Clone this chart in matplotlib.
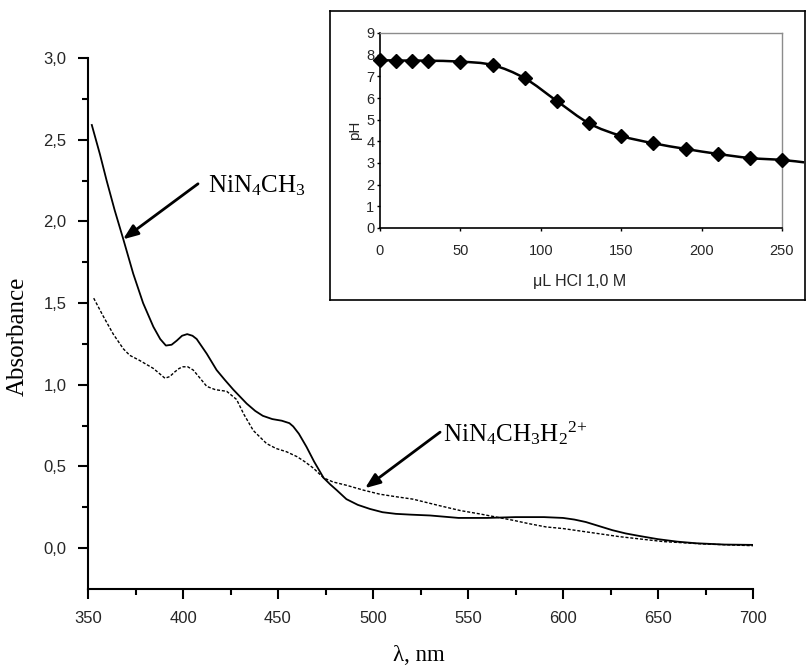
import numpy as np
import matplotlib
matplotlib.use('Agg')
import matplotlib.pyplot as plt
from matplotlib.path import Path
from matplotlib.patches import PathPatch

plt.rcParams['mathtext.fontset'] = 'custom'
plt.rcParams['mathtext.rm'] = 'Liberation Serif'
plt.rcParams['mathtext.it'] = 'Liberation Serif:italic'
plt.rcParams['font.family'] = ['Liberation Sans', 'DejaVu Sans']

# ---------------- data ----------------
wl_solid = [352, 356.3, 359.8, 364, 368.6, 373.8, 379, 384.4, 388, 391, 394, 396.7, 399.5,
            402.2, 405, 407.2, 412.5, 417.7, 422, 426.5, 433.5, 438, 442, 447, 452, 456,
            458, 461, 465, 469, 474, 477.5, 480.9, 486, 492, 498.4, 505, 512, 520, 530,
            545, 560, 575, 590, 600, 606, 612, 619, 626, 633, 640, 650, 660, 670, 685, 700]
abs_solid = [2.59, 2.41, 2.25, 2.07, 1.89, 1.68, 1.50, 1.355, 1.28, 1.24, 1.245, 1.27, 1.30,
             1.31, 1.30, 1.28, 1.19, 1.09, 1.03, 0.97, 0.885, 0.84, 0.81, 0.79, 0.78, 0.765,
             0.745, 0.70, 0.62, 0.53, 0.43, 0.39, 0.355, 0.30, 0.265, 0.24, 0.22, 0.21,
             0.205, 0.20, 0.185, 0.185, 0.19, 0.19, 0.185, 0.175, 0.16, 0.135, 0.11, 0.09,
             0.075, 0.055, 0.04, 0.03, 0.022, 0.02]

wl_dashed = [353, 358, 363.3, 368.6, 372, 377, 384.4, 390.5, 393, 395.8, 398, 400, 402.5,
             405.4, 409, 412.5, 417, 423, 428.2, 432, 437, 444, 449, 454.5, 460, 464, 468.6,
             474, 479, 486, 495, 503.7, 512, 521, 535, 546, 556, 565, 574, 582, 591, 600,
             612, 630, 653, 675, 700]
abs_dashed = [1.53, 1.42, 1.31, 1.22, 1.18, 1.15, 1.10, 1.04, 1.05, 1.08, 1.10, 1.11, 1.11,
              1.09, 1.04, 0.99, 0.97, 0.96, 0.91, 0.82, 0.72, 0.64, 0.61, 0.59, 0.56, 0.53,
              0.49, 0.43, 0.405, 0.385, 0.355, 0.33, 0.315, 0.30, 0.26, 0.23, 0.21, 0.19,
              0.17, 0.15, 0.13, 0.12, 0.10, 0.07, 0.04, 0.025, 0.015]

x_ticks = [350, 400, 450, 500, 550, 600, 650, 700]
x_minor = [375, 425, 475, 525, 575, 625, 675]
y_ticks = [0.0, 0.5, 1.0, 1.5, 2.0, 2.5, 3.0]
y_ticklabels = ['0,0', '0,5', '1,0', '1,5', '2,0', '2,5', '3,0']
y_minor = [0.25, 0.75, 1.25, 1.75, 2.25, 2.75]

label_solid = r'$\mathrm{NiN_4CH_3}$'
label_dashed = r'$\mathrm{NiN_4CH_3H_2{}^{2\!+}}$'

# inset: titration curve
hcl_ul = [0, 10, 20, 30, 50, 70, 90, 110, 130, 150, 170, 190, 210, 230, 250]
ph = [7.75, 7.73, 7.73, 7.72, 7.68, 7.52, 6.91, 5.86, 4.83, 4.25, 3.91, 3.65, 3.42, 3.23, 3.14]
tail_ul = [263.7]
tail_ph = [3.03]
inset_xticks = [0, 50, 100, 150, 200, 250]
inset_yticks = [0, 1, 2, 3, 4, 5, 6, 7, 8, 9]

# ---------------- figure ----------------
W, H = 809, 666
fig = plt.figure(figsize=(W / 100, H / 100), dpi=100)

ax = fig.add_axes([88 / W, (H - 589) / H, 665 / W, 531 / H])
ax.plot(wl_solid, abs_solid, color='black', lw=1.3)
ax.plot(wl_dashed, abs_dashed, color='black', lw=1.0, linestyle=(0, (2.2, 1.3)))
ax.set_xlim(350, 700)
ax.set_ylim(-0.25, 3.0)
ax.set_xticks(x_ticks)
ax.set_xticks(x_minor, minor=True)
ax.set_yticks(y_ticks)
ax.set_yticklabels(y_ticklabels)
ax.set_yticks(y_minor, minor=True)
for s in ['top', 'right']:
    ax.spines[s].set_visible(False)
for s in ['left', 'bottom']:
    ax.spines[s].set_linewidth(1.5)
ax.tick_params(which='major', direction='out', length=7.5, width=1.5,
               labelsize=12, labelcolor='#262626', pad=8)
ax.tick_params(which='minor', direction='out', length=4.5, width=1.5)

ax.set_ylabel('Absorbance', family='Liberation Serif', fontsize=18)
ax.yaxis.set_label_coords(-0.089, 0.475)
ax.set_xlabel('λ, nm', family='Liberation Serif', fontsize=16.5)
ax.xaxis.set_label_coords(0.498, -0.106)

arrow_kw = dict(arrowstyle='-|>,head_length=0.9,head_width=0.35', color='black',
                lw=2.0, shrinkA=0, shrinkB=0)
ax.annotate('', xy=(368.4, 1.89), xytext=(407.9, 2.23), arrowprops=arrow_kw)
ax.text(413.2, 2.18, label_solid, fontsize=18, va='baseline', ha='left')
ax.annotate('', xy=(495.8, 0.367), xytext=(535.3, 0.71), arrowprops=arrow_kw)
ax.text(536.8, 0.654, label_dashed, fontsize=18, va='baseline', ha='left')

# inset frame
frame = fig.add_axes([330 / W, (H - 300) / H, 475 / W, 289 / H])
frame.set_xticks([])
frame.set_yticks([])
for s in frame.spines.values():
    s.set_linewidth(1.2)
    s.set_color('black')

ins = fig.add_axes([380 / W, (H - 228) / H, 402 / W, 195 / H])
ins.set_xlim(0, 250)
ins.set_ylim(0, 9)
ins.patch.set_alpha(0)

# smooth line through points (Bezier path, drawn in data coordinates)
px = list(hcl_ul) + list(tail_ul)
py = list(ph) + list(tail_ph)
pts = np.column_stack([px, py]).astype(float)
verts = [pts[0]]
codes = [Path.MOVETO]
n = len(pts)
for i in range(n - 1):
    p0 = pts[max(i - 1, 0)]
    p1 = pts[i]
    p2 = pts[i + 1]
    p3 = pts[min(i + 2, n - 1)]
    c1 = p1 + (p2 - p0) / 6.0
    c2 = p2 - (p3 - p1) / 6.0
    verts += [c1, c2, p2]
    codes += [Path.CURVE4] * 3
patch = PathPatch(Path(verts, codes), facecolor='none', edgecolor='black', lw=1.8,
                  transform=ins.transData, clip_on=False, zorder=3)
ins.add_patch(patch)
ins.plot(hcl_ul, ph, linestyle='none', marker='D', markersize=7.5, color='black',
         clip_on=False, zorder=4)

ins.set_xticks(inset_xticks)
ins.set_yticks(inset_yticks)
ins.spines['left'].set_linewidth(1.2)
ins.spines['bottom'].set_linewidth(1.2)
ins.spines['top'].set_color('#8c8c8c')
ins.spines['right'].set_color('#8c8c8c')
ins.spines['top'].set_linewidth(1.0)
ins.spines['right'].set_linewidth(1.0)
ins.tick_params(axis='y', direction='out', length=2.5, width=1.0, labelsize=10.5,
                labelcolor='#262626', pad=1.5)
ins.tick_params(axis='x', direction='out', length=2.5, width=1.0, labelsize=10.5,
                labelcolor='#262626', pad=9)
ins.set_ylabel('pH', fontsize=11, color='#262626')
ins.yaxis.set_label_coords(-0.045, 0.5)
ins.set_xlabel('μL HCl 1,0 M', fontsize=11.5, color='#262626')
ins.xaxis.set_label_coords(0.4975, -0.236)

fig.savefig('out.png', dpi=100)
